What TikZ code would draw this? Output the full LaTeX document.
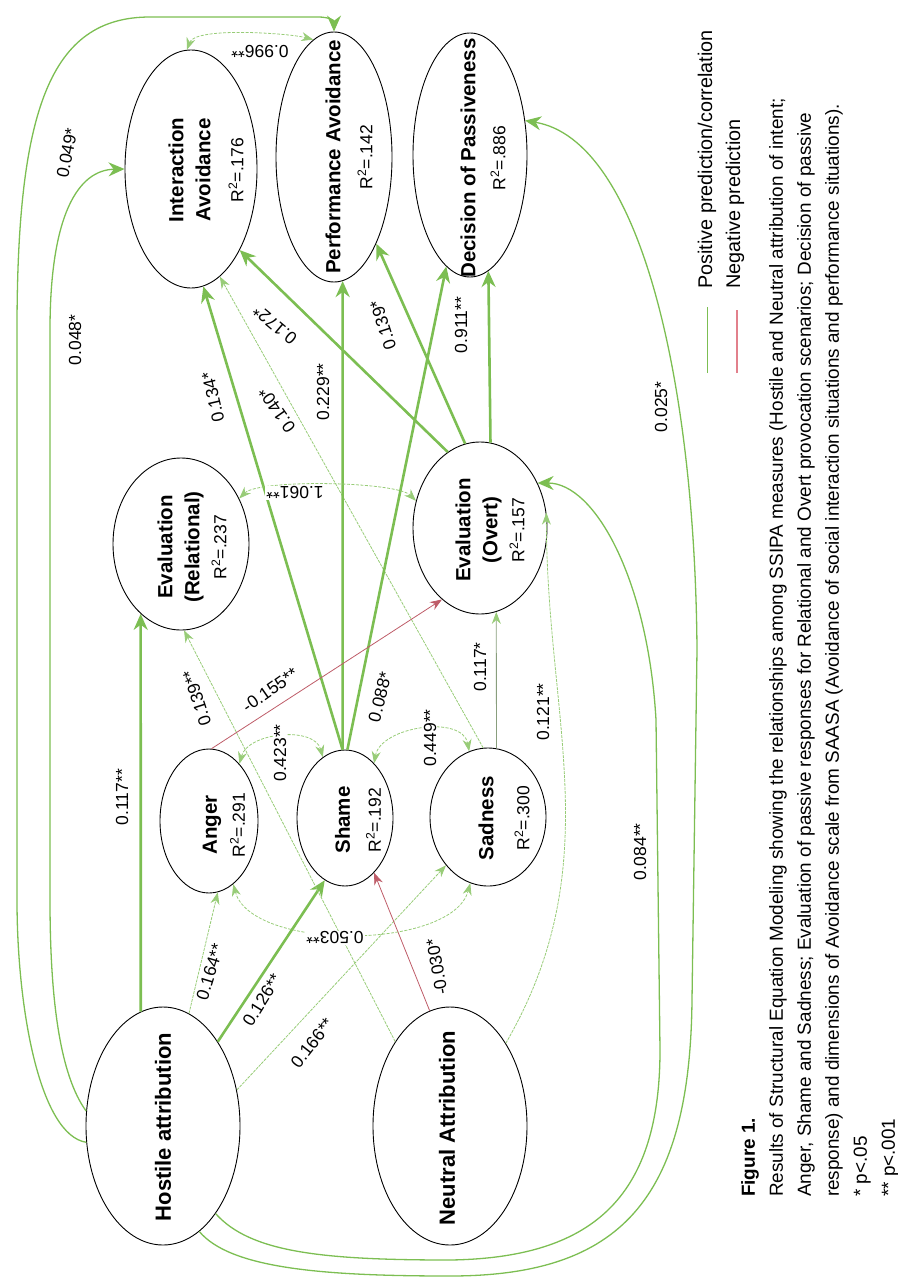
\documentclass[tikz,border=0pt]{standalone}
\usepackage{fontspec}
\setmainfont{Liberation Sans}
\usetikzlibrary{shapes.geometric}
\usetikzlibrary{arrows.meta}

\definecolor{posgreen}{RGB}{124,190,82}
\definecolor{palegreen}{RGB}{152,204,120}
\definecolor{negred}{RGB}{190,92,104}
\definecolor{legred}{RGB}{226,128,140}

\newcommand{\rsq}[1]{{\mdseries\fontsize{17.5}{21}\selectfont R\textsuperscript{2}=#1}}

\begin{document}
\begin{tikzpicture}[x=1pt, y=1pt,
    var/.style={draw, line width=0.9pt, ellipse, inner sep=0pt},
    vartext/.style={rotate=90, align=center, inner sep=0pt, font=\fontsize{20.5}{27}\selectfont\bfseries},
    lbl/.style={inner sep=1pt, font=\fontsize{17.5}{20}\selectfont},
    legtext/.style={rotate=90, inner sep=0pt, font=\fontsize{19.8}{24}\selectfont},
    strong/.style={draw=posgreen, line width=2.6pt, -{Stealth[length=16pt, width=14pt]}},
    weak/.style={draw=palegreen, line width=0.8pt, dash pattern=on 3pt off 1pt, -{Stealth[length=12pt, width=9pt]}},
    faint/.style={draw=gray!60!palegreen, line width=0.8pt, -{Stealth[length=12pt, width=9pt, color=palegreen]}},
    negweak/.style={draw=negred, line width=0.8pt, -{Stealth[length=12pt, width=9pt]}},
    cov/.style={draw=palegreen, line width=0.8pt, dash pattern=on 3pt off 1.5pt, {Stealth[length=12pt, width=9pt]}-{Stealth[length=12pt, width=9pt]}},
    longpath/.style={draw=posgreen, line width=1.3pt, -{Stealth[length=16pt, width=14pt]}}]
    \useasboundingbox (0,0) rectangle (897,-1279);

    % variables
    \node[var, minimum width=132, minimum height=238] (ia) at (191,-169) {};
    \node[var, minimum width=116, minimum height=250] (pa) at (334,-157) {};
    \node[var, minimum width=114, minimum height=244] (dp) at (470,-155) {};
    \node[var, minimum width=136, minimum height=172] (er) at (181,-544) {};
    \node[var, minimum width=134, minimum height=172] (eo) at (480,-528) {};
    \node[var, minimum width=98, minimum height=144] (ang) at (209,-821) {};
    \node[var, minimum width=96, minimum height=136] (sha) at (345,-818) {};
    \node[var, minimum width=116, minimum height=138] (sad) at (488,-817) {};
    \node[var, minimum width=154, minimum height=238] (ha) at (163,-1126) {};
    \node[var, minimum width=154, minimum height=238] (na) at (450,-1126) {};

    \node[vartext] (iatext) at (206,-170) {Interaction\\Avoidance\\[6pt]\rsq{.176}};
    \node[vartext] (patext) at (349,-157) {Performance Avoidance\\[5pt]\rsq{.142}};
    \node[vartext] (dptext) at (483,-158) {Decision of Passiveness\\[3pt]\rsq{.886}};
    \node[vartext] (ertext) at (192,-547) {Evaluation\\(Relational)\\\rsq{.237}};
    \node[vartext] (eotext) at (490,-530) {Evaluation\\(Overt)\\\rsq{.157}};
    \node[vartext] (angtext) at (224,-825) {Anger\\[1pt]\rsq{.291}};
    \node[vartext] (shatext) at (358,-820) {Shame\\[4pt]\rsq{.192}};
    \node[vartext] (sadtext) at (504,-818) {Sadness\\[9pt]\rsq{.300}};
    \node[vartext, font=\fontsize{22}{27}\selectfont\bfseries] (hatext) at (163,-1127) {Hostile attribution};
    \node[vartext, font=\fontsize{22}{27}\selectfont\bfseries] (natext) at (447,-1128) {Neutral Attribution};

    % attributions
    \draw[strong] (ha.101) -- (er.240);
    \draw[weak] (ha.77) -- (ang.277);
    \draw[strong] (ha.57) -- (sha.252);
    \draw[weak] (ha.26) -- (sad.229);
    \draw[negweak] (na.100) -- (sha.298);
    \draw[weak] (na.123) -- (er.272);
    \draw[weak] (na.56) to[out=60, in=-90] (eo.13);

    % emotions and evaluations
    \draw[faint] (sad.83) -- (eo.281);
    \draw[weak] (sad.94) -- (ia.285);
    \draw[strong] (sha.92) -- (ia.276);
    \draw[strong] (sha.92) -- (pa.274);
    \draw[strong] (sha.88) -- (dp.258);
    \draw[negweak] (ang.88) -- (eo.242);
    \draw[strong] (eo.113) -- (ia.301);
    \draw[strong] (eo.100) -- (pa.296);
    \draw[strong] (eo.83) -- (dp.279);

    % correlations
    \draw[cov] (ang.62) to[out=75, in=105] (sha.110);
    \draw[cov] (sha.62) to[out=80, in=100] (sad.106);
    \draw[cov] (ang.291) to[out=-75, in=-105, looseness=0.75] (sad.255);
    \draw[cov] (ia.92) to[out=70, in=165, looseness=0.5] (pa.100);
    \draw[cov] (er.38) to[out=45, in=135, looseness=0.4] (eo.157);

    % long paths from hostile attribution
    \draw[longpath] (ha.169) .. controls (60,-1075) and (50,-1000) .. (50,-900) -- (50,-330)
        .. controls (50,-215) and (78,-170) .. (ia.180);
    \draw[longpath] (ha.192) .. controls (40,-1135) and (17,-1010) .. (17,-900) -- (17,-330)
        .. controls (17,-110) and (50,-17) .. (150,-17) -- (318,-17)
        .. controls (328,-17) and (334,-20) .. (pa.90);
    \draw[longpath] (ha.301) .. controls (250,-1252) and (320,-1260) .. (450,-1260)
        .. controls (590,-1258) and (660,-1200) .. (660,-1050) -- (656,-720)
        .. controls (648,-580) and (595,-483) .. (eo.38);
    \draw[longpath] (ha.289) .. controls (230,-1268) and (320,-1276) .. (450,-1276)
        .. controls (620,-1276) and (690,-1200) .. (692,-1000) -- (697,-650)
        .. controls (695,-380) and (640,-140) .. (dp.32);

    % coefficients
    \node[lbl, rotate=90] (l117a) at (122,-797) {0.117**};
    \node[lbl, rotate=73] (l164) at (210,-972) {0.164**};
    \node[lbl, rotate=58] (l126) at (262,-1000) {0.126**};
    \node[lbl, rotate=52] (l166) at (312,-1043) {0.166**};
    \node[lbl, rotate=100] (l030) at (437,-967) {-0.030*};
    \node[lbl, rotate=108] (l139a) at (197,-698) {0.139**};
    \node[lbl, rotate=35] (l155) at (270,-690) {-0.155**};
    \node[lbl, rotate=90, fill=white] (l423) at (280,-753) {0.423**};
    \node[lbl, rotate=90, fill=white] (l449) at (430,-738) {0.449**};
    \node[lbl, rotate=180, fill=white] (l503) at (335,-938) {0.503**};
    \node[lbl, rotate=180] (l996) at (260,-52) {0.996**};
    \node[lbl, rotate=180, fill=white] (l1061) at (295,-493) {1.061**};
    \node[lbl, rotate=103] (l134) at (213,-397) {0.134*};
    \node[lbl, rotate=125] (l140) at (277,-410) {0.140*};
    \node[lbl, rotate=90] (l229) at (323,-392) {0.229**};
    \node[lbl, rotate=140] (l172) at (275,-325) {0.172*};
    \node[lbl, rotate=108] (l139b) at (383,-325) {0.139*};
    \node[lbl, rotate=90] (l911) at (461,-325) {0.911**};
    \node[lbl, rotate=76] (l088) at (380,-697) {0.088*};
    \node[lbl, rotate=90] (l117b) at (480,-667) {0.117*};
    \node[lbl, rotate=90] (l121) at (543,-712) {0.121**};
    \node[lbl, rotate=90] (l084) at (640,-852) {0.084**};
    \node[lbl, rotate=90] (l025) at (661,-407) {0.025*};
    \node[lbl, rotate=90] (l048) at (75,-340) {0.048*};
    \node[lbl, rotate=79] (l049) at (67,-153) {0.049*};

    % legend
    \draw[posgreen, line width=1pt] (707,-373) -- (707,-307);
    \draw[legred, line width=1.5pt] (737,-373) -- (737,-310);
    \node[legtext, anchor=west] (legpos) at (707,-289) {Positive prediction/correlation};
    \node[legtext, anchor=west] (legneg) at (735,-289) {Negative prediction};

    % caption
    \node[rotate=90, anchor=north west, align=left, inner sep=0pt, font=\fontsize{18.9}{28}\selectfont] (caption) at (741,-1197)
        {\textbf{Figure 1.}\\
        Results of Structural Equation Modeling showing the relationships among SSIPA measures (Hostile and Neutral attribution of intent;\\
        Anger, Shame and Sadness; Evaluation of passive responses for Relational and Overt provocation scenarios; Decision of passive\\
        response) and dimensions of Avoidance scale from SAASA (Avoidance of social interaction situations and performance situations).\\
        * p<.05\\
        ** p<.001};
\end{tikzpicture}
\end{document}
